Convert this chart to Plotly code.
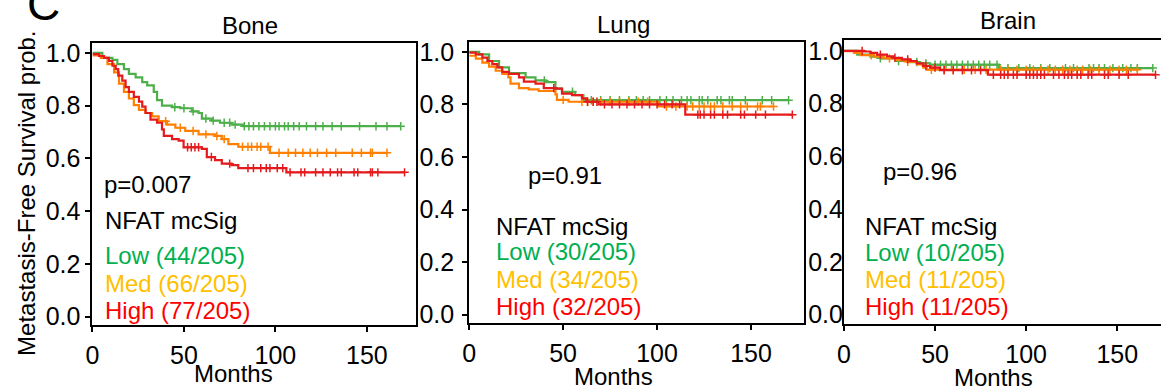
import numpy as np
import plotly.graph_objects as go

W, H = 1161, 391

# ---------------- data ----------------
panels = ["Bone", "Lung", "Brain"]
p_values = ["p=0.007", "p=0.91", "p=0.96"]
group_names = ["Low", "Med", "High"]
events = {
    "Bone": ["44/205", "66/205", "77/205"],
    "Lung": ["30/205", "34/205", "32/205"],
    "Brain": ["10/205", "11/205", "11/205"],
}
x_ticks = [0, 50, 100, 150]
y_ticks = [0.0, 0.2, 0.4, 0.6, 0.8, 1.0]

# Bone
bone_low_t = [0, 5.4, 10.9, 13.6, 17.2, 19.9, 23.6, 27.2, 29.9, 33.5, 35.3, 38, 43.5, 48, 54.3, 58, 59.8, 65.2, 69.7, 76, 82.4]
bone_low_s = [1.0, 0.981, 0.973, 0.957, 0.938, 0.920, 0.907, 0.889, 0.877, 0.852, 0.821, 0.800, 0.794, 0.790, 0.778, 0.772, 0.751, 0.743, 0.735, 0.728, 0.722]
bone_low_end = 168.5
bone_low_cens = [45, 50, 55, 62, 66, 72, 75, 78, 83, 85.5, 88, 91, 94, 97, 100, 102, 105, 107, 110, 113, 117, 122, 126, 131, 136, 146, 155, 161, 168.5]

bone_med_t = [0, 4.5, 8.2, 11.8, 14.5, 17.2, 19.9, 22.6, 25.4, 29, 32.6, 36.2, 40.8, 45.3, 50.7, 58, 67, 70.7, 74.3, 79.7, 97]
bone_med_s = [0.99, 0.981, 0.957, 0.926, 0.883, 0.852, 0.827, 0.802, 0.784, 0.772, 0.759, 0.741, 0.728, 0.716, 0.704, 0.691, 0.685, 0.673, 0.654, 0.644, 0.621]
bone_med_end = 161
bone_med_cens = [40, 48, 55, 62, 68, 72, 82, 85, 87, 90, 92, 96, 102, 107, 111, 115, 119, 123, 128, 133, 142, 147, 152, 153, 161]

bone_high_t = [0, 3.6, 6.3, 9, 10.9, 12.7, 14.1, 16.3, 18.1, 19.9, 22.6, 25.4, 27.2, 29, 31.7, 35.3, 38, 39, 43.5, 47.1, 49.8, 59.8, 62.5, 67, 70.7, 76, 79.7, 106]
bone_high_s = [0.995, 0.988, 0.981, 0.969, 0.951, 0.938, 0.914, 0.895, 0.870, 0.852, 0.833, 0.815, 0.796, 0.772, 0.747, 0.735, 0.710, 0.685, 0.673, 0.667, 0.642, 0.636, 0.605, 0.593, 0.580, 0.574, 0.563, 0.547]
bone_high_end = 170.6
bone_high_cens = [52, 54, 56, 58, 65, 75, 85, 88, 92, 95, 97, 101, 104, 108, 114, 116, 122, 126, 130, 134, 136, 143, 145, 152, 153, 156, 170.6]

# Lung
lung_low_t = [0, 5.3, 10.6, 15.9, 21.2, 30, 35.3, 40.6, 45.9, 49.4, 56.4, 60.8]
lung_low_s = [1.0, 0.990, 0.965, 0.941, 0.919, 0.903, 0.891, 0.885, 0.860, 0.848, 0.835, 0.816]
lung_low_end = 170
lung_low_cens = [40, 55, 65, 70, 75, 80, 85, 89, 92.6, 96, 101.5, 105, 108.5, 113, 116, 118, 122.5, 124, 127, 132, 134, 138.5, 140, 147, 156, 161, 170]

lung_med_t = [0, 3.5, 7, 10.6, 14.1, 17.6, 20.8, 22, 26.5, 31.7, 37, 45.9, 46.7, 52.9, 100.5]
lung_med_s = [0.985, 0.974, 0.959, 0.944, 0.928, 0.916, 0.903, 0.879, 0.862, 0.857, 0.851, 0.838, 0.817, 0.810, 0.792]
lung_med_end = 162
lung_med_cens = [50, 60, 63, 66, 70, 75, 80, 85, 90, 95, 105, 110, 116, 119, 122.5, 125, 128.5, 130.5, 135, 140, 144.5, 148, 153.5, 155, 162]

lung_high_t = [0, 3.5, 7, 9.7, 12.3, 15, 17.6, 21.2, 26.5, 29.1, 35.3, 39.7, 45.9, 49.4, 54.7, 60, 62.6, 68.8, 115]
lung_high_s = [0.997, 0.990, 0.978, 0.965, 0.953, 0.941, 0.924, 0.916, 0.903, 0.887, 0.879, 0.862, 0.860, 0.841, 0.835, 0.823, 0.810, 0.800, 0.761]
lung_high_end = 172
lung_high_cens = [45, 63, 66, 68, 72, 76, 80, 84, 88, 92, 96, 100, 104, 108, 112, 121.7, 123, 125, 128.5, 130.5, 135, 137.5, 144.5, 146.5, 152.5, 157.7, 172]

# Brain
brain_low_t = [0, 7.3, 14.5, 20, 29, 36.4, 41.8, 47.3, 85]
brain_low_s = [1.0, 0.986, 0.978, 0.972, 0.962, 0.958, 0.953, 0.948, 0.935]
brain_low_end = 169.5
brain_low_cens = [20, 30, 40, 45, 50, 53, 56, 59, 62, 65, 68, 71, 74, 77, 80, 84, 90, 96, 102, 108, 113, 121.6, 126, 134.5, 137, 140, 143, 147.6, 153, 157.5, 161, 169.5]

brain_med_t = [0, 5.5, 9.1, 16.4, 21.8, 29, 34.5, 40, 43.6, 45.5]
brain_med_s = [0.999, 0.993, 0.984, 0.978, 0.972, 0.965, 0.959, 0.949, 0.937, 0.929]
brain_med_end = 161
brain_med_cens = [15, 25, 35, 48, 55, 60, 66, 72, 78, 86, 90, 95, 100, 104, 108, 112, 116, 120, 124, 128, 131, 135, 140, 146, 151, 155, 161]

brain_high_t = [0, 10.9, 14.5, 18.2, 23.6, 27.3, 31.8, 36.4, 40, 43.6, 47.3, 52.7, 79]
brain_high_s = [1.0, 0.998, 0.993, 0.986, 0.980, 0.974, 0.968, 0.962, 0.953, 0.943, 0.937, 0.927, 0.910]
brain_high_end = 171
brain_high_cens = [10, 20, 28, 35, 45, 50, 55, 60, 65, 70, 75, 82, 86, 88, 90, 93, 95, 100, 102, 104, 106, 108, 110, 115, 118, 121, 123, 125, 128, 130, 134, 136, 143, 145, 151, 156, 171]

curves = {
    "Bone": [(bone_low_t, bone_low_s, bone_low_end, bone_low_cens),
             (bone_med_t, bone_med_s, bone_med_end, bone_med_cens),
             (bone_high_t, bone_high_s, bone_high_end, bone_high_cens)],
    "Lung": [(lung_low_t, lung_low_s, lung_low_end, lung_low_cens),
             (lung_med_t, lung_med_s, lung_med_end, lung_med_cens),
             (lung_high_t, lung_high_s, lung_high_end, lung_high_cens)],
    "Brain": [(brain_low_t, brain_low_s, brain_low_end, brain_low_cens),
              (brain_med_t, brain_med_s, brain_med_end, brain_med_cens),
              (brain_high_t, brain_high_s, brain_high_end, brain_high_cens)],
}

# ---------------- styles ----------------
line_colors = ["#4DAF4A", "#FF8000", "#E41A1C"]
text_colors = ["#00B050", "#FFC000", "#FF0000"]
FONT = "Liberation Sans, Arial, sans-serif"
FS = 24
TFS = 25

# panel geometry in pixels: (left, right, top, bottom), x range end, y range
geom = {
    "Bone": dict(l=86, r=411, t=40, b=329, xmax=176.6, ymin=-0.0333, ymax=1.037, ystand=0),
    "Lung": dict(l=465, r=802, t=39, b=327, xmax=178.3, ymin=-0.0335, ymax=1.037, ystand=3),
    "Brain": dict(l=842, r=1161, t=37, b=328, xmax=174.0, ymin=-0.037, ymax=1.041, ystand=-6),
}

def px(x):
    return x / W

def py(y):
    return 1 - y / H

fig = go.Figure()

for i, name in enumerate(panels):
    sfx = "" if i == 0 else str(i + 1)
    xa, ya = "x" + sfx, "y" + sfx
    for g, (t, s, tend, cens) in enumerate(curves[name]):
        tt = list(t) + [tend]
        ss = list(s) + [s[-1]]
        fig.add_trace(go.Scatter(x=tt, y=ss, mode="lines", line=dict(color=line_colors[g], width=2.2, shape="hv"),
                                 xaxis=xa, yaxis=ya, hoverinfo="skip"))
        ta = np.array(t)
        idx = np.searchsorted(ta, np.array(cens), side="right") - 1
        cy = np.array(s)[idx]
        fig.add_trace(go.Scatter(x=cens, y=cy, mode="markers",
                                 marker=dict(symbol="cross-thin", size=6, line=dict(color=line_colors[g], width=1.5)),
                                 xaxis=xa, yaxis=ya, hoverinfo="skip"))

layout = dict(width=W, height=H, margin=dict(l=0, r=0, t=0, b=0), plot_bgcolor="white", paper_bgcolor="white",
              showlegend=False, font=dict(family=FONT, size=FS, color="black"))

for i, name in enumerate(panels):
    gm = geom[name]
    sfx = "" if i == 0 else str(i + 1)
    brain = name == "Brain"
    layout["xaxis" + sfx] = dict(domain=[px(gm["l"]), min(1.0, px(gm["r"]))], range=[0, gm["xmax"]],
                                 anchor="y" + sfx, showline=True, linewidth=2, linecolor="black", mirror=True,
                                 ticks="outside", ticklen=5, tickwidth=2, tickcolor="black", tickvals=x_ticks,
                                 showgrid=False, zeroline=False, ticklabelstandoff=2,
                                 tickfont=dict(family=FONT, size=TFS, color="black"))
    layout["yaxis" + sfx] = dict(domain=[py(gm["b"]), py(gm["t"])], range=[gm["ymin"], gm["ymax"]],
                                 anchor="x" + sfx, showline=True, linewidth=2, linecolor="black",
                                 mirror=(False if brain else True),
                                 ticks=("" if brain else "outside"), ticklen=5, tickwidth=2, tickcolor="black",
                                 tickvals=y_ticks, tickformat=".1f", showgrid=False, zeroline=False,
                                 ticklabelstandoff=gm["ystand"],
                                 tickfont=dict(family=FONT, size=TFS, color="black"))

fig.update_layout(**layout)

ann = []
def add_text(x, y, text, color="black", size=FS, xanchor="left", yanchor="middle", angle=0):
    ann.append(dict(x=px(x), y=py(y), xref="paper", yref="paper", text=text, showarrow=False,
                    xanchor=xanchor, yanchor=yanchor, textangle=angle,
                    font=dict(family=FONT, size=size, color=color)))

# panel titles
title_pos = {"Bone": (244, 22), "Lung": (620, 20.5), "Brain": (1007, 17)}
months_pos = {"Bone": (228, 378), "Lung": (610, 381), "Brain": (992, 382)}
pval_pos = {"Bone": (96, 185), "Lung": (522, 175.5), "Brain": (879, 171.5)}
legend_pos = {"Bone": (97, [222, 257, 286, 314]), "Lung": (490, [228, 253, 282, 310]),
              "Brain": (861, [228, 254, 282, 310])}

for i, name in enumerate(panels):
    tx, ty = title_pos[name]
    add_text(tx, ty, name, xanchor="center")
    mx, my = months_pos[name]
    add_text(mx, my, "Months", xanchor="center")
    vx, vy = pval_pos[name]
    add_text(vx, vy, p_values[i])
    lx, lys = legend_pos[name]
    add_text(lx, lys[0], "NFAT mcSig")
    for g in range(3):
        add_text(lx, lys[g + 1], f"{group_names[g]} ({events[name][g]})", color=text_colors[g])

add_text(19.5, 194, "Metastasis-Free Survival prob.", xanchor="center", angle=-90)
add_text(18, 0, "C", size=46)

fig.update_layout(annotations=ann)
fig.write_html("out.html")
